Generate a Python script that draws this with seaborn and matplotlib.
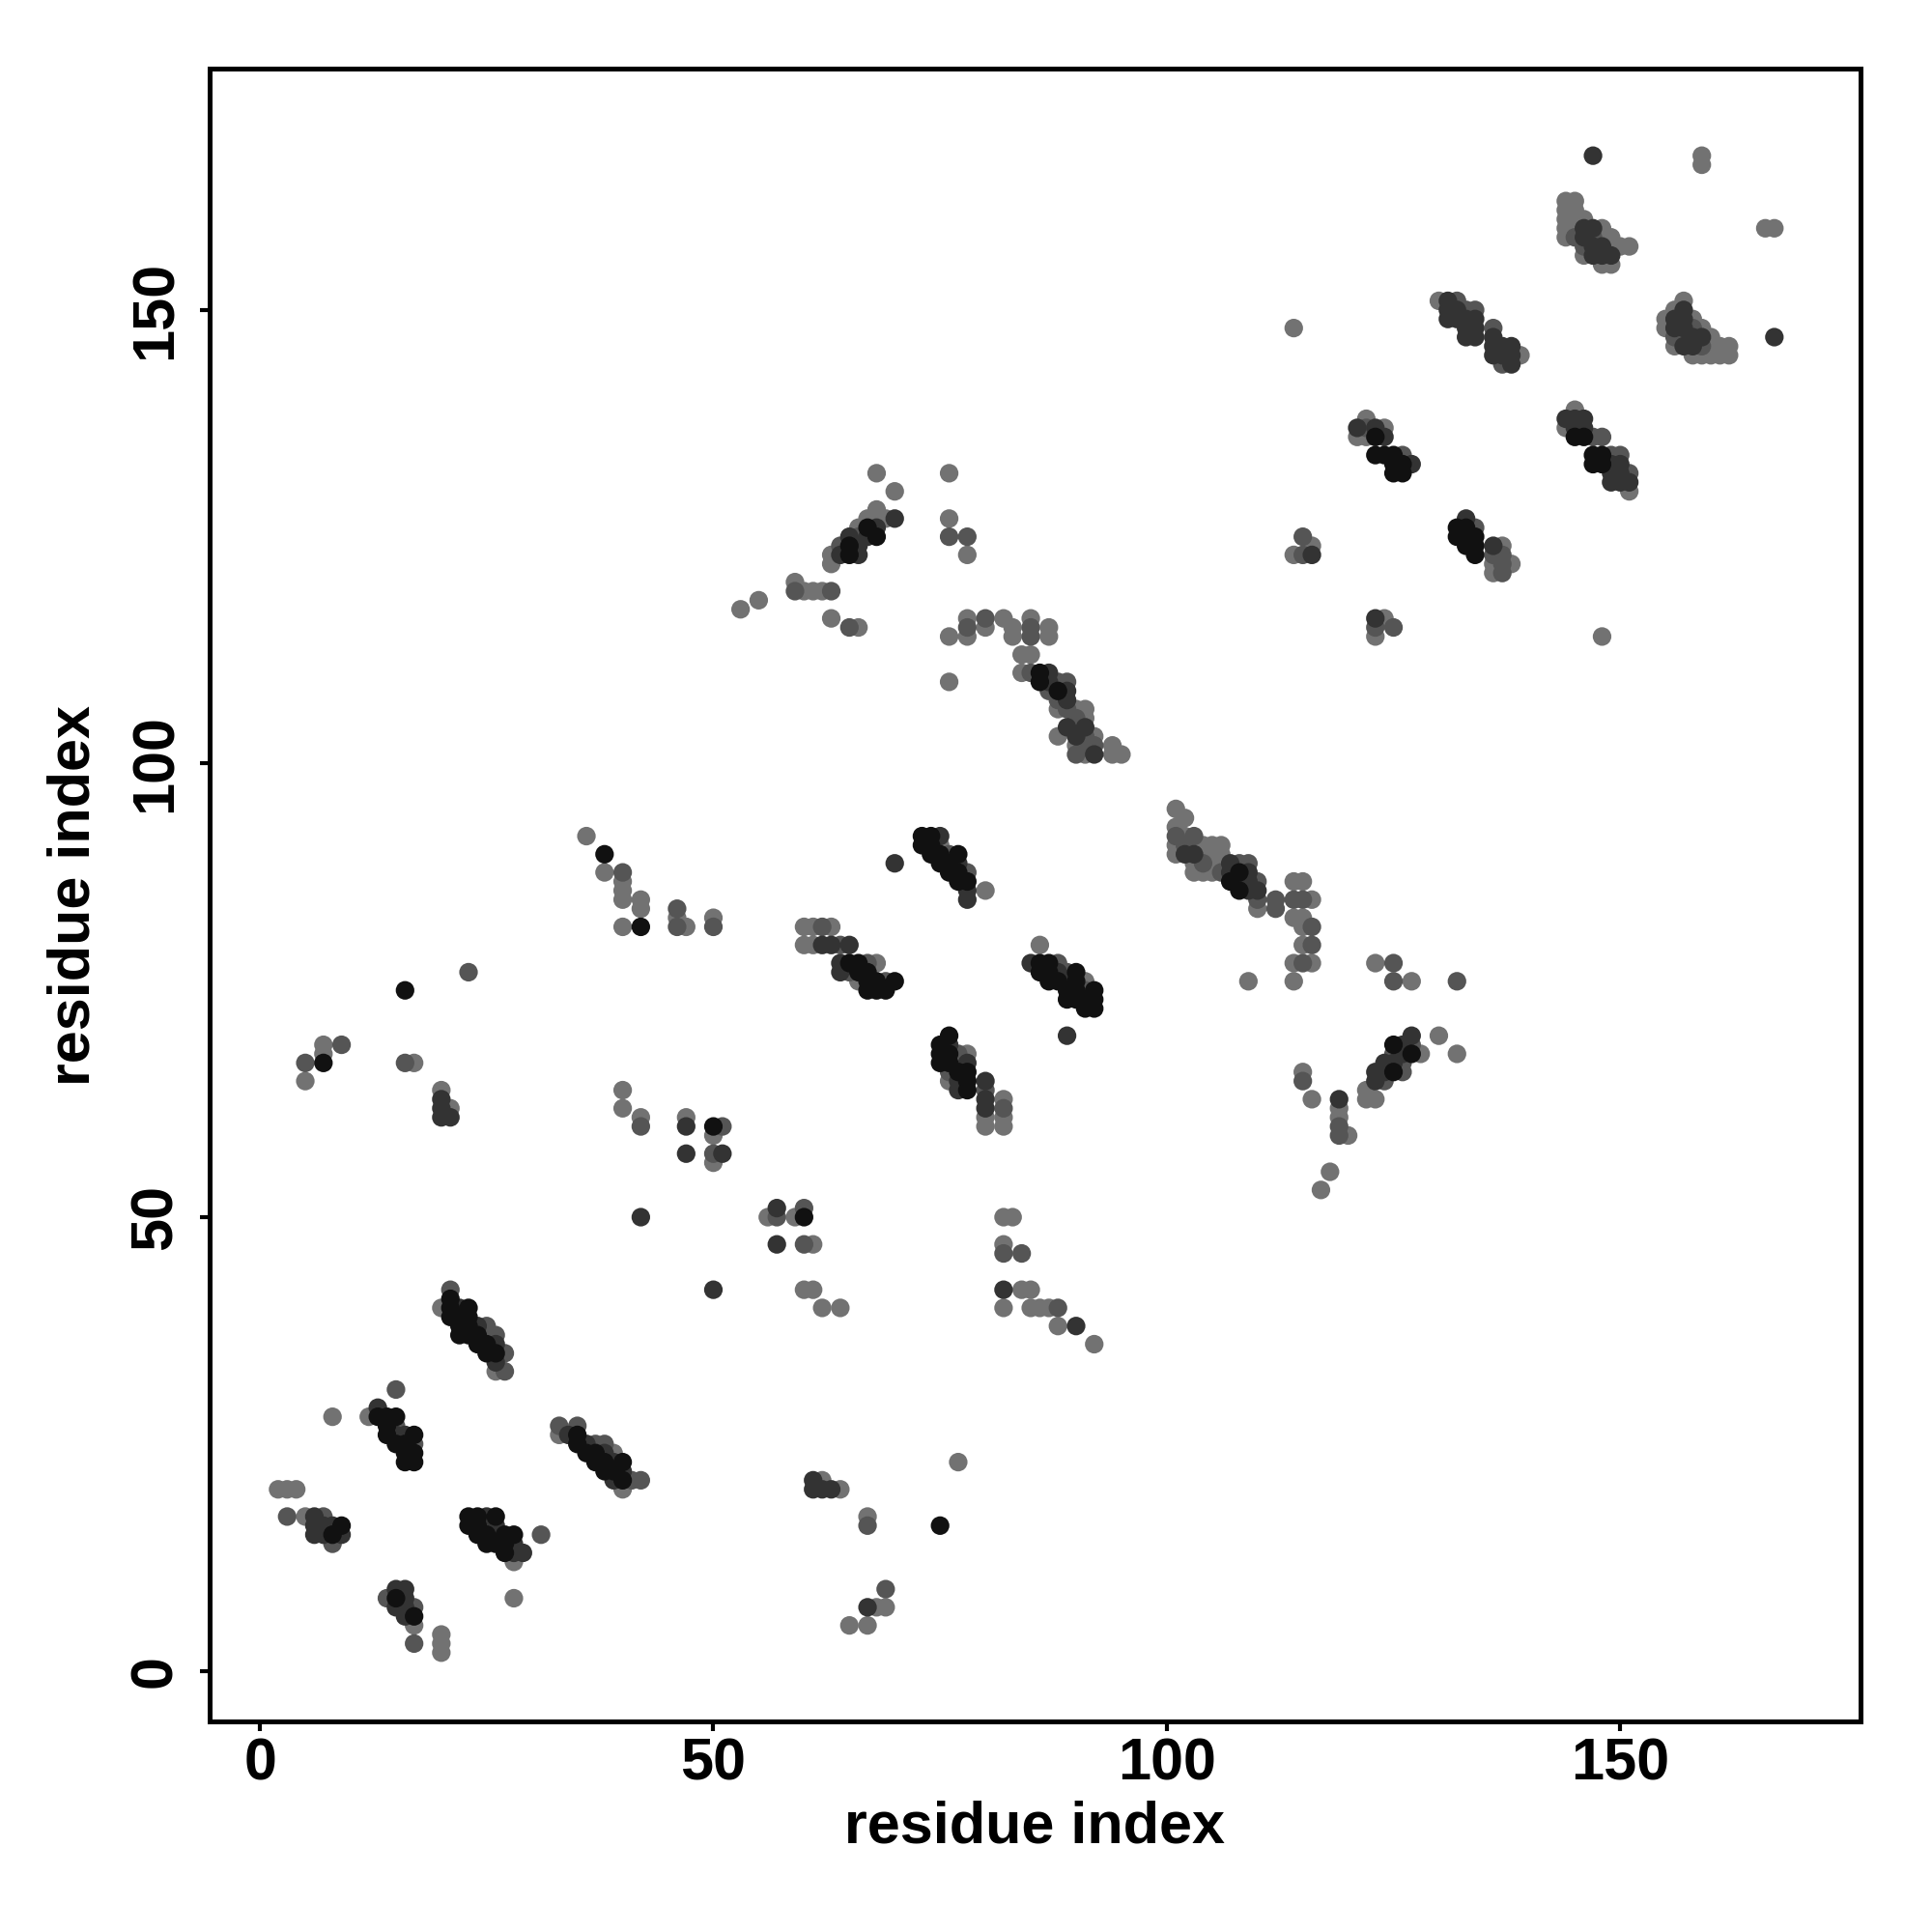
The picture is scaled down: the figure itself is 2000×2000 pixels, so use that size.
import numpy as np
import pandas as pd
import matplotlib
matplotlib.use('Agg')
import matplotlib.pyplot as plt
import seaborn as sns

# Contacts: (residue i, residue j, shade)
# shade: 0 = light grey, 1 = mid grey, 2 = dark grey, 3 = black
low_left = [
    (21, 42, 1), (20, 40, 0), (21, 41, 3), (21, 40, 3), (21, 39, 3), (22, 40, 2), (22, 39, 3),
    (22, 38, 3), (22, 37, 3), (23, 40, 3), (23, 39, 3), (23, 38, 3), (23, 37, 3), (24, 38, 2),
    (24, 37, 3), (24, 36, 3), (25, 38, 1), (25, 37, 1), (25, 36, 3), (25, 35, 3), (26, 37, 1),
    (26, 36, 2), (26, 35, 3), (26, 34, 2), (27, 35, 1), (26, 33, 0), (27, 33, 1),
    (15, 31, 1), (8, 28, 0), (12, 28, 0), (13, 29, 2), (13, 28, 3), (14, 28, 3), (14, 27, 3),
    (14, 26, 3), (15, 28, 3), (15, 27, 1), (15, 26, 2), (15, 25, 3), (16, 26, 2), (16, 25, 3),
    (16, 24, 3), (16, 23, 3), (17, 26, 3), (17, 25, 1), (17, 24, 3), (17, 23, 3),
    (2, 20, 0), (3, 20, 0), (4, 20, 0), (3, 17, 1), (5, 17, 0), (6, 17, 2), (7, 17, 1),
    (6, 16, 2), (6, 15, 2), (7, 16, 2), (7, 15, 2), (8, 16, 2), (8, 15, 3), (8, 14, 1),
    (9, 16, 3), (9, 15, 2),
    (23, 17, 3), (24, 17, 3), (25, 17, 2), (26, 17, 3), (23, 16, 3), (24, 16, 3), (24, 15, 3),
    (25, 16, 1), (25, 15, 3), (25, 14, 3), (26, 16, 2), (26, 15, 1), (26, 14, 3), (27, 15, 3),
    (27, 14, 3), (27, 13, 3), (28, 15, 3), (28, 14, 2), (28, 13, 2), (28, 12, 0), (29, 13, 2),
    (31, 15, 1), (28, 8, 0),
    (14, 8, 1), (15, 9, 2), (16, 9, 2), (15, 8, 3), (16, 8, 2), (15, 7, 2), (16, 7, 2),
    (16, 6, 2), (17, 7, 1), (17, 6, 3), (17, 5, 0), (17, 3, 1), (20, 4, 0), (20, 3, 0), (20, 2, 0),
    (33, 27, 1), (33, 26, 0), (35, 27, 1), (34, 26, 2), (35, 26, 3), (35, 25, 3), (36, 25, 2),
    (36, 24, 3), (37, 25, 1), (37, 24, 3), (37, 23, 3), (38, 25, 1), (38, 24, 2), (38, 23, 3),
    (38, 22, 3), (39, 24, 0), (39, 23, 2), (39, 22, 3), (39, 21, 2), (40, 23, 3), (40, 22, 2),
    (40, 21, 3), (40, 20, 0), (41, 21, 1), (42, 21, 1),
]

mid_left = [
    (36, 92, 0), (38, 90, 3), (38, 88, 0), (40, 88, 1), (40, 87, 0), (40, 86, 0), (40, 85, 0),
    (42, 85, 0), (42, 84, 0), (40, 82, 0), (42, 82, 3), (23, 77, 1), (16, 75, 3),
    (7, 69, 0), (7, 68, 0), (7, 67, 3), (9, 69, 1), (5, 67, 1), (5, 65, 0), (16, 67, 1),
    (17, 67, 0), (20, 64, 0), (20, 63, 2), (20, 62, 2), (20, 61, 2), (21, 62, 0), (21, 61, 2),
    (40, 64, 0), (40, 62, 0), (42, 61, 0), (42, 60, 1), (42, 50, 2),
]

low_mid = [
    (50, 42, 2), (60, 42, 0), (61, 42, 0), (62, 40, 0), (64, 40, 0), (82, 42, 2), (84, 42, 0),
    (85, 42, 0), (82, 40, 0), (85, 40, 0), (86, 40, 0), (87, 40, 0), (88, 40, 1), (88, 38, 0),
    (90, 38, 2), (92, 36, 0), (77, 23, 0), (61, 21, 2), (62, 21, 0), (61, 20, 2), (62, 20, 2),
    (63, 20, 2), (64, 20, 0), (67, 17, 0), (67, 16, 1), (75, 16, 3), (69, 9, 1), (67, 7, 2),
    (68, 7, 0), (69, 7, 0), (65, 5, 0), (67, 5, 0),
]

centre = [
    (73, 92, 3), (74, 92, 3), (75, 92, 2), (73, 91, 3), (74, 91, 3), (74, 90, 3), (75, 91, 0),
    (75, 90, 3), (75, 89, 3), (76, 90, 1), (76, 89, 3), (76, 88, 3), (77, 90, 3), (77, 89, 2),
    (77, 88, 3), (77, 87, 3), (78, 88, 1), (78, 87, 3), (78, 86, 2), (78, 85, 2), (80, 86, 0),
    (70, 89, 2),
    (46, 84, 1), (46, 83, 0), (46, 82, 1), (47, 82, 0), (50, 83, 0), (50, 82, 1),
    (60, 82, 0), (61, 82, 0), (62, 82, 1), (63, 82, 0), (60, 80, 0), (61, 80, 0), (62, 80, 2),
    (63, 80, 2), (64, 80, 1), (65, 80, 2), (64, 78, 2), (65, 78, 3), (66, 78, 3), (67, 78, 1),
    (68, 78, 0), (64, 77, 2), (65, 77, 1), (66, 77, 3), (67, 77, 3), (66, 76, 0), (67, 76, 3),
    (68, 76, 3), (69, 76, 1), (70, 76, 3), (67, 75, 3), (68, 75, 3), (69, 75, 3),
    (86, 80, 0), (85, 78, 2), (86, 78, 3), (87, 78, 3), (88, 78, 1), (86, 77, 3), (87, 77, 3),
    (88, 77, 2), (89, 77, 1), (90, 77, 3), (87, 76, 3), (88, 76, 3), (89, 76, 2), (90, 76, 3),
    (91, 76, 0), (89, 75, 3), (90, 75, 3), (91, 75, 1), (92, 75, 3), (89, 74, 3), (90, 74, 3),
    (91, 74, 3), (92, 74, 3), (91, 73, 3), (92, 73, 3), (89, 70, 2),
    (76, 70, 3), (75, 69, 3), (76, 69, 2), (75, 68, 3), (76, 68, 3), (77, 68, 1), (75, 67, 3),
    (76, 67, 3), (77, 67, 1), (78, 67, 2), (76, 66, 1), (77, 66, 3), (78, 66, 3), (76, 65, 0),
    (77, 65, 2), (78, 65, 3), (77, 64, 2), (78, 64, 3), (78, 68, 0), (80, 65, 2), (80, 64, 1),
    (80, 63, 2), (80, 62, 2), (80, 61, 0), (80, 60, 0), (82, 63, 0), (82, 62, 1), (82, 61, 0),
    (82, 60, 0),
    (47, 61, 0), (47, 60, 2), (50, 60, 3), (51, 60, 1), (50, 59, 0), (47, 57, 2), (50, 57, 1),
    (51, 57, 2), (50, 56, 0),
    (56, 50, 0), (57, 51, 2), (57, 50, 1), (60, 51, 1), (59, 50, 0), (60, 50, 3), (57, 47, 2),
    (60, 47, 1), (61, 47, 0), (82, 50, 0), (83, 50, 0), (82, 47, 0), (82, 46, 1), (84, 46, 1),
]

upper_mid = [
    (68, 132, 0), (70, 130, 0), (68, 128, 0), (69, 127, 0), (70, 127, 2), (63, 123, 0),
    (63, 122, 0), (64, 124, 1), (64, 123, 2), (65, 125, 2), (65, 124, 3), (65, 123, 3),
    (66, 126, 0), (66, 125, 1), (66, 124, 2), (66, 123, 2), (67, 127, 0), (67, 126, 3),
    (67, 125, 2), (68, 127, 0), (68, 126, 2), (68, 125, 3),
    (59, 120, 0), (59, 119, 1), (60, 119, 0), (61, 119, 0), (62, 119, 0), (63, 119, 1),
    (55, 118, 0), (53, 117, 0), (63, 116, 0), (65, 115, 1), (66, 115, 0),
    (76, 132, 0), (76, 127, 0), (76, 125, 1), (78, 125, 1), (78, 123, 0), (76, 109, 0),
    (76, 114, 0), (78, 116, 0), (78, 115, 1), (78, 114, 0), (80, 116, 1), (80, 115, 0),
    (82, 116, 0), (83, 115, 0), (83, 114, 0), (85, 116, 0), (85, 115, 1), (85, 114, 1),
    (87, 115, 0), (87, 114, 0), (84, 112, 0), (85, 112, 0), (84, 110, 0), (85, 110, 1),
    (86, 110, 3), (87, 110, 2), (86, 109, 3), (87, 109, 2), (88, 109, 1), (89, 109, 1),
    (88, 108, 3), (89, 108, 2), (87, 108, 1), (88, 107, 1), (89, 107, 2), (88, 106, 0),
    (89, 106, 1), (90, 106, 0), (90, 105, 1), (91, 106, 0), (91, 105, 0), (88, 103, 0),
    (89, 104, 2), (90, 104, 1), (90, 103, 2), (90, 102, 0), (91, 104, 2), (91, 103, 1),
    (91, 102, 1), (90, 101, 1), (91, 101, 0), (92, 101, 2), (92, 103, 0), (92, 102, 1),
    (94, 102, 0), (94, 101, 0), (95, 101, 0),
]

right_mid = [
    (101, 95, 0), (102, 94, 0), (101, 93, 0), (101, 92, 1), (101, 91, 0), (101, 90, 0),
    (102, 92, 0), (102, 91, 1), (102, 90, 2), (103, 92, 1), (103, 91, 0), (103, 90, 2),
    (103, 89, 0), (103, 88, 0), (104, 91, 0), (104, 90, 0), (104, 89, 1), (104, 88, 0),
    (105, 91, 0), (105, 90, 0), (105, 89, 0), (105, 88, 0), (106, 91, 0), (106, 90, 0),
    (106, 89, 0), (106, 88, 1), (107, 89, 2), (107, 88, 2), (107, 87, 3), (108, 89, 1),
    (108, 88, 3), (108, 87, 2), (108, 86, 3), (109, 89, 1), (109, 88, 2), (109, 87, 2),
    (109, 86, 2), (110, 87, 1), (110, 86, 2), (110, 85, 1), (110, 84, 0), (112, 85, 1),
    (112, 84, 1),
    (114, 87, 0), (115, 87, 0), (114, 85, 1), (115, 85, 1), (116, 85, 0), (114, 83, 0),
    (115, 83, 0), (115, 82, 0), (116, 82, 1), (115, 80, 0), (116, 80, 1), (114, 78, 0),
    (115, 78, 1), (116, 78, 0), (114, 76, 0), (109, 76, 0),
    (123, 78, 0), (125, 78, 1), (125, 76, 1), (127, 76, 0), (132, 76, 1),
    (127, 70, 2), (130, 70, 0), (132, 68, 0), (128, 68, 0), (125, 69, 3), (126, 69, 2),
    (126, 68, 2), (127, 69, 1), (127, 68, 3), (124, 67, 2), (125, 67, 2), (125, 68, 1),
    (126, 67, 1), (123, 66, 2), (124, 66, 2), (125, 66, 3), (126, 66, 1), (123, 65, 2),
    (124, 65, 1), (122, 64, 0), (122, 63, 0), (123, 63, 0),
    (115, 66, 0), (115, 65, 1), (116, 63, 0), (119, 63, 2), (119, 62, 0), (119, 61, 0),
    (119, 60, 1), (119, 59, 1), (120, 59, 0), (118, 55, 0), (117, 53, 0),
]

upper_right = [
    (121, 137, 2), (121, 136, 0), (122, 138, 0), (122, 137, 1), (122, 136, 0), (123, 137, 2),
    (123, 136, 3), (124, 137, 0), (124, 136, 2), (123, 134, 3), (124, 134, 3), (125, 134, 3),
    (125, 133, 3), (126, 134, 1), (126, 133, 3), (126, 132, 3), (125, 132, 3), (127, 133, 2),
    (132, 126, 3), (132, 125, 3), (133, 127, 2), (133, 126, 3), (133, 125, 3), (133, 124, 3),
    (134, 126, 1), (134, 125, 3), (134, 124, 3), (134, 123, 3), (136, 124, 2), (136, 123, 1),
    (136, 122, 0), (136, 121, 0), (137, 124, 0), (137, 123, 1), (137, 122, 1), (137, 121, 1),
    (138, 122, 0),
    (115, 125, 1), (116, 124, 0), (114, 123, 0), (115, 123, 1), (116, 123, 2),
    (123, 116, 2), (124, 116, 0), (125, 115, 1), (123, 115, 1), (123, 114, 0),
    (114, 148, 0), (130, 151, 0), (131, 151, 2), (132, 151, 1), (131, 150, 2), (131, 149, 2),
    (132, 150, 2), (132, 149, 2), (133, 150, 1), (133, 149, 2), (133, 148, 2), (133, 147, 2),
    (134, 150, 1), (134, 149, 2), (134, 148, 2), (134, 147, 2), (136, 148, 1), (136, 147, 2),
    (136, 146, 2), (136, 145, 2), (137, 146, 2), (137, 145, 2), (137, 144, 1), (138, 146, 2),
    (138, 145, 2), (138, 144, 2), (139, 145, 0),
]

top_right = [
    (144, 138, 2), (144, 137, 0), (145, 139, 0), (145, 138, 2), (145, 137, 2), (145, 136, 3),
    (146, 138, 2), (146, 137, 2), (146, 136, 3), (147, 136, 1), (148, 136, 1), (147, 134, 3),
    (147, 133, 3), (148, 134, 3), (148, 133, 3), (149, 134, 1), (149, 133, 2), (149, 132, 2),
    (149, 131, 2), (150, 134, 1), (150, 133, 2), (150, 132, 2), (150, 131, 2), (151, 132, 1),
    (151, 131, 2), (151, 130, 0), (148, 114, 0),
    (147, 167, 2), (159, 167, 0), (159, 166, 0), (166, 159, 0), (167, 159, 0), (167, 147, 2),
    (144, 162, 0), (145, 162, 0), (144, 161, 0), (145, 161, 0), (144, 160, 0), (145, 160, 0),
    (146, 160, 0), (144, 159, 0), (145, 159, 0), (146, 159, 2), (147, 159, 2), (148, 159, 0),
    (144, 158, 0), (145, 158, 1), (146, 158, 2), (147, 158, 1), (148, 158, 0), (149, 158, 0),
    (146, 157, 1), (147, 157, 2), (148, 157, 2), (149, 157, 0), (150, 157, 0), (151, 157, 0),
    (146, 156, 0), (147, 156, 2), (148, 156, 2), (149, 156, 2), (148, 155, 0), (149, 155, 0),
    (155, 149, 0), (155, 148, 0), (156, 150, 0), (156, 149, 2), (156, 148, 2), (156, 147, 1),
    (156, 146, 0), (157, 151, 0), (157, 150, 2), (157, 149, 2), (157, 148, 2), (157, 147, 1),
    (157, 146, 2), (158, 149, 0), (158, 148, 1), (158, 147, 2), (158, 146, 2), (158, 145, 0),
    (159, 148, 0), (159, 147, 2), (159, 146, 1), (159, 145, 0), (160, 147, 0), (160, 146, 0),
    (160, 145, 0), (161, 146, 0), (161, 145, 0), (162, 146, 0), (162, 145, 0),
]

shade_colors = {0: '#727272', 1: '#555555', 2: '#333333', 3: '#111111'}
ticks = [0, 50, 100, 150]

blocks = low_left + mid_left + low_mid + centre + upper_mid + right_mid + upper_right + top_right
contacts = pd.DataFrame(blocks, columns=['i', 'j', 'shade'])
contacts = contacts.sort_values('shade', kind='stable')

sns.set_style('white')
plt.rcParams['font.family'] = ['Liberation Sans', 'DejaVu Sans']
plt.rcParams['font.weight'] = 'bold'
plt.rcParams['text.color'] = 'black'

fig = plt.figure(figsize=(10, 10), dpi=200)
ax = fig.add_axes([0.1085, 0.109, 0.8545, 0.8555])

sns.scatterplot(data=contacts, x='i', y='j', hue='shade', palette=shade_colors,
                s=48, linewidth=0, legend=False, ax=ax)

ax.set_xlim(-5.55, 176.5)
ax.set_ylim(-5.58, 176.6)
ax.set_xticks(ticks)
ax.set_yticks(ticks)
ax.set_xticklabels([str(t) for t in ticks], fontsize=22, fontweight='bold', color='black')
ax.set_yticklabels([str(t) for t in ticks], fontsize=22, fontweight='bold', color='black',
                   rotation=90, va='center')
ax.tick_params(axis='both', direction='out', length=3.5, width=1.5,
               color='black', left=True, bottom=True)
ax.tick_params(axis='x', pad=2.5)
ax.tick_params(axis='y', pad=6)
for side in ax.spines.values():
    side.set_linewidth(1.8)
    side.set_color('black')

ax.set_xlabel('residue index', fontsize=22, fontweight='bold', color='black', labelpad=3)
ax.set_ylabel('residue index', fontsize=22, fontweight='bold', color='black', labelpad=10)

fig.savefig('out.png', dpi=200)
